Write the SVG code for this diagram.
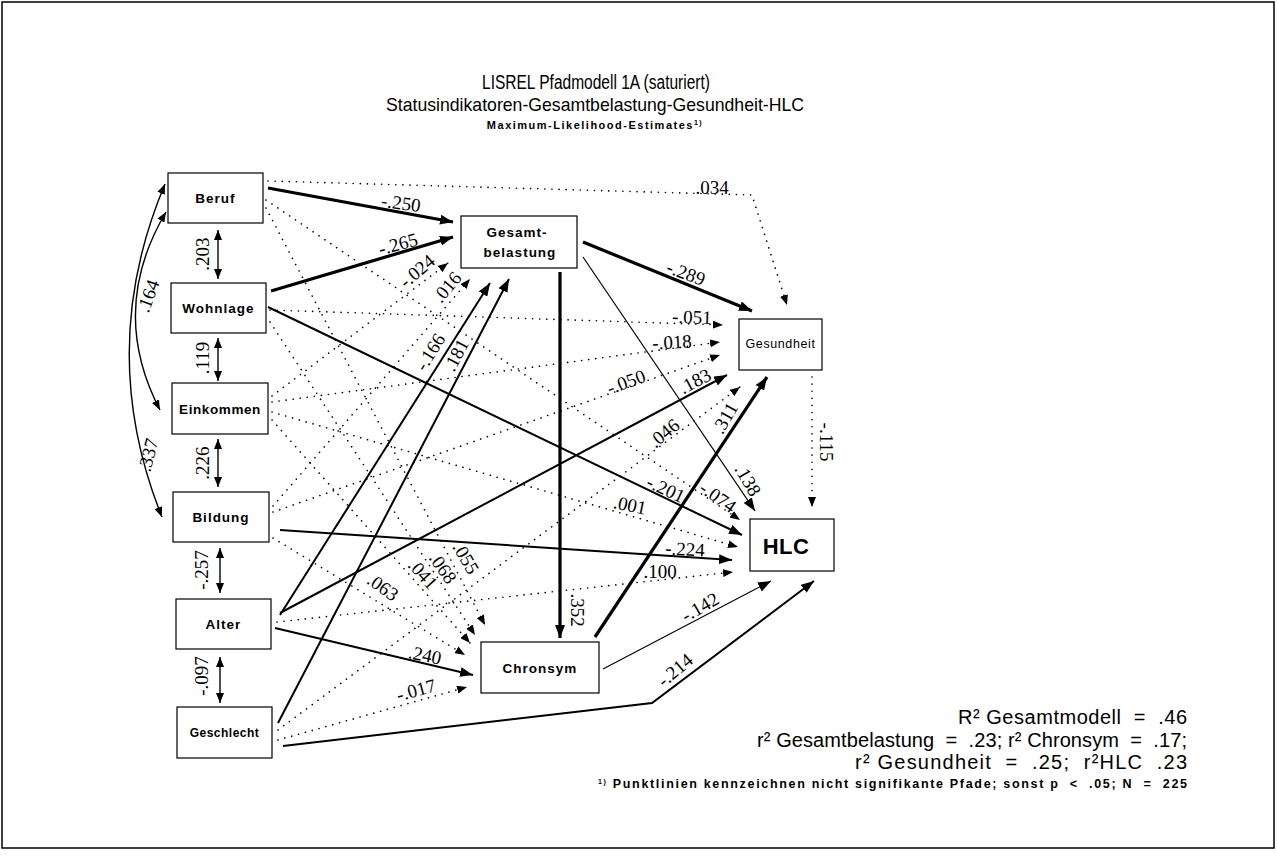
<svg xmlns="http://www.w3.org/2000/svg" width="1277" height="868" viewBox="0 0 1277 868">
<defs>
<marker id="ah" viewBox="0 0 10 8" refX="10" refY="4" markerWidth="10" markerHeight="8" markerUnits="userSpaceOnUse" orient="auto-start-reverse"><path d="M0,0 L10,4 L0,8 z" fill="#000"/></marker>
<marker id="ahb" viewBox="0 0 13 10" refX="13" refY="5" markerWidth="13" markerHeight="10" markerUnits="userSpaceOnUse" orient="auto"><path d="M0,0 L13,5 L0,10 z" fill="#000"/></marker>
<style>
.box{fill:#fff;stroke:#000;stroke-width:1.2}
.nl{font-family:"Liberation Sans",Arial,sans-serif;font-weight:bold;font-size:13.5px;letter-spacing:1px;text-anchor:middle;dominant-baseline:central}
.s{fill:none;stroke:#000;marker-end:url(#ahb)}
.t3{stroke-width:3.2}
.t2{stroke-width:2}
.t1{stroke-width:1.2}
.d{fill:none;stroke:#000;stroke-width:1.6;stroke-dasharray:0.1 7;stroke-linecap:round;marker-end:url(#ah)}
.c{fill:none;stroke:#000;stroke-width:1.4;marker-start:url(#ah);marker-end:url(#ah)}
.lb{font-family:"Liberation Serif","Times New Roman",serif;font-size:19px;text-anchor:middle;dominant-baseline:central}
.ti{font-family:"Liberation Sans",Arial,sans-serif;text-anchor:middle}
.rt{font-family:"Liberation Sans",Arial,sans-serif;font-size:20px;text-anchor:end}
</style>
</defs>
<rect x="2" y="2" width="1272" height="846" fill="#fff" stroke="#000" stroke-width="1.5"/>
<g id="title">
<text class="ti" x="596" y="89" font-size="20" textLength="228" lengthAdjust="spacingAndGlyphs">LISREL Pfadmodell 1A (saturiert)</text>
<text class="ti" x="595" y="111" font-size="19" textLength="418" lengthAdjust="spacingAndGlyphs">Statusindikatoren-Gesamtbelastung-Gesundheit-HLC</text>
<text class="ti" x="595" y="129" font-size="11" font-weight="bold" letter-spacing="1.5">Maximum-Likelihood-Estimates<tspan font-size="7" dy="-4">1)</tspan></text>
</g>
<g id="connectors">
<path class="s t3" d="M268,188 L453,222"/>
<path class="s t3" d="M271,291 L453,237"/>
<path class="s t2" d="M268,307 L742,535"/>
<path class="s t3" d="M583,242 L752,311"/>
<path class="s t1" d="M583,257 L755,511"/>
<path class="s t3" d="M560,272 L560,638"/>
<path class="s t2" d="M280,615 L490,283"/>
<path class="s t2" d="M278,723 L509,279"/>
<path class="s t2" d="M280,613 L727,375"/>
<path class="s t2" d="M275,628 L473,675"/>
<path class="s t3" d="M595,637 L767,377"/>
<path class="s t1" d="M603,669 L771,581"/>
<path class="s t2" d="M283,746 L652,703 L814,581"/>
<path class="s t2" d="M280,530 L732,560"/>
<path class="d" d="M268,181 L752,195 L787,305"/>
<path class="d" d="M266,200 L740,520"/>
<path class="d" d="M266,208 L485,625"/>
<path class="d" d="M270,310 L723,325"/>
<path class="d" d="M270,322 L475,635"/>
<path class="d" d="M272,396 L448,263"/>
<path class="d" d="M272,402 L720,342"/>
<path class="d" d="M272,412 L738,547"/>
<path class="d" d="M272,420 L470,643"/>
<path class="d" d="M273,506 L470,279"/>
<path class="d" d="M273,512 L720,355"/>
<path class="d" d="M273,538 L465,655"/>
<path class="d" d="M277,622 L733,572"/>
<path class="d" d="M278,730 L740,387"/>
<path class="d" d="M278,740 L467,687"/>
<path class="d" d="M812,377 L812,507"/>
<path class="c" d="M218,230 L218,279"/>
<path class="c" d="M218,338 L218,381"/>
<path class="c" d="M218,439 L218,487"/>
<path class="c" d="M220,548 L220,593"/>
<path class="c" d="M220,657 L220,703"/>
<path class="c" d="M165,184 Q95,350 162,517"/>
<path class="c" d="M166,212 Q108,310 160,410"/>
</g>
<g id="labels">
<text class="lb" transform="translate(401,203) rotate(8)">-.250</text>
<text class="lb" transform="translate(398,244) rotate(-15)">-.265</text>
<text class="lb" transform="translate(417,271) rotate(-40)">-.024</text>
<text class="lb" transform="translate(447,287) rotate(-50)">.016</text>
<text class="lb" transform="translate(430,352) rotate(-58)">-.166</text>
<text class="lb" transform="translate(456,355) rotate(-62)">.181</text>
<text class="lb" transform="translate(712,187)">.034</text>
<text class="lb" transform="translate(686,273) rotate(20)">-.289</text>
<text class="lb" transform="translate(692,317) rotate(2)">-.051</text>
<text class="lb" transform="translate(672,342) rotate(-3)">-.018</text>
<text class="lb" transform="translate(626,382) rotate(-20)">-.050</text>
<text class="lb" transform="translate(695,381) rotate(-28)">.183</text>
<text class="lb" transform="translate(725,418) rotate(-60)">.311</text>
<text class="lb" transform="translate(664,433) rotate(-40)">.046</text>
<text class="lb" transform="translate(748,480) rotate(60)">.138</text>
<text class="lb" transform="translate(666,489) rotate(25)">-.201</text>
<text class="lb" transform="translate(718,497) rotate(35)">-.074</text>
<text class="lb" transform="translate(630,505) rotate(12)">.001</text>
<text class="lb" transform="translate(826,442) rotate(90)">-.115</text>
<text class="lb" transform="translate(685,549) rotate(3)">-.224</text>
<text class="lb" transform="translate(660,571)">.100</text>
<text class="lb" transform="translate(577,610) rotate(90)">.352</text>
<text class="lb" transform="translate(700,607) rotate(-30)">-.142</text>
<text class="lb" transform="translate(675,670) rotate(-40)">-.214</text>
<text class="lb" transform="translate(466,558) rotate(60)">.055</text>
<text class="lb" transform="translate(443,568) rotate(55)">.068</text>
<text class="lb" transform="translate(423,574) rotate(48)">.041</text>
<text class="lb" transform="translate(383,587) rotate(35)">.063</text>
<text class="lb" transform="translate(425,655) rotate(12)">.240</text>
<text class="lb" transform="translate(416,690) rotate(-15)">-.017</text>
<text class="lb" transform="translate(202,254) rotate(-90)">.203</text>
<text class="lb" transform="translate(202,358) rotate(-90)">.119</text>
<text class="lb" transform="translate(202,463) rotate(-90)">.226</text>
<text class="lb" transform="translate(201,570) rotate(-90)">-.257</text>
<text class="lb" transform="translate(201,676) rotate(-90)">-.097</text>
<text class="lb" transform="translate(148,296) rotate(-70)">.164</text>
<text class="lb" transform="translate(148,455) rotate(-75)">.337</text>
</g>
<g id="n-beruf"><rect class="box" x="168" y="173" width="95" height="50"/><text class="nl" x="215.5" y="198">Beruf</text></g>
<g id="n-wohnlage"><rect class="box" x="171" y="283" width="95" height="50"/><text class="nl" x="218.5" y="308">Wohnlage</text></g>
<g id="n-einkommen"><rect class="box" x="172" y="383" width="96" height="51"/><text class="nl" x="220" y="409" style="letter-spacing:0.6px">Einkommen</text></g>
<g id="n-bildung"><rect class="box" x="173" y="492" width="96" height="50"/><text class="nl" x="221" y="517">Bildung</text></g>
<g id="n-alter"><rect class="box" x="176" y="599" width="95" height="50"/><text class="nl" x="223.5" y="624">Alter</text></g>
<g id="n-geschlecht"><rect class="box" x="177" y="707" width="95" height="51"/><text class="nl" x="224.5" y="733" style="font-size:12px;letter-spacing:0.5px">Geschlecht</text></g>
<g id="n-gesamtbelastung"><rect class="box" x="461" y="216" width="116" height="52"/><text class="nl" x="517" y="232">Gesamt-</text><text class="nl" x="520" y="252">belastung</text></g>
<g id="n-gesundheit"><rect class="box" x="739" y="319" width="83" height="51"/><text class="nl" x="780.5" y="344" style="font-weight:normal;font-size:12.5px;letter-spacing:0.6px">Gesundheit</text></g>
<g id="n-hlc"><rect class="box" x="750" y="519" width="84" height="52"/><text class="nl" x="786" y="546" style="font-size:22px;letter-spacing:0.5px">HLC</text></g>
<g id="n-chronsym"><rect class="box" x="481" y="642" width="118" height="51"/><text class="nl" x="540" y="668">Chronsym</text></g>
<g id="stats">
<text class="rt" x="1187" y="724" xml:space="preserve" textLength="229" lengthAdjust="spacing">R² Gesamtmodell  =  .46</text>
<text class="rt" x="1187" y="747" xml:space="preserve" textLength="430" lengthAdjust="spacing">r² Gesamtbelastung  =  .23; r² Chronsym  =  .17;</text>
<text class="rt" x="1187" y="769" xml:space="preserve" textLength="332" lengthAdjust="spacing">r² Gesundheit  =  .25;  r²HLC  .23</text>
<text class="rt" x="1187" y="788" xml:space="preserve" style="font-size:12.5px;font-weight:bold" textLength="589" lengthAdjust="spacing"><tspan font-size="7" dy="-4">1)</tspan><tspan dy="4"> Punktlinien kennzeichnen nicht signifikante Pfade; sonst p  &lt;  .05; N  =  225</tspan></text>
</g>
</svg>
